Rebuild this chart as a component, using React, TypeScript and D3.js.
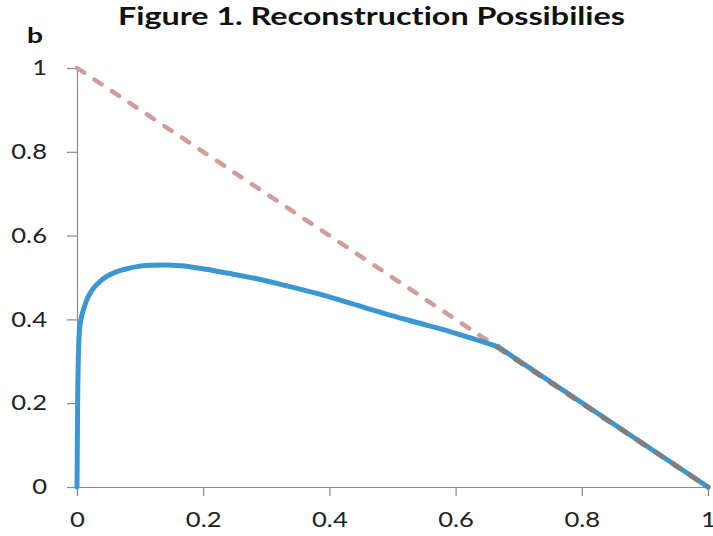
import React, { useEffect, useRef } from 'react';
import * as d3 from 'd3';

// blue curve, curved part
const curveX = [0, 0.0005, 0.001, 0.002, 0.004, 0.007, 0.01, 0.015, 0.0206, 0.028, 0.036, 0.048, 0.063, 0.079, 0.095, 0.116, 0.14, 0.165, 0.195, 0.24, 0.285, 0.33, 0.38, 0.43, 0.485, 0.54, 0.591, 0.63, 0.667];
const curveY = [0, 0.1, 0.2, 0.3, 0.375, 0.405, 0.422, 0.445, 0.462, 0.478, 0.49, 0.503, 0.514, 0.521, 0.526, 0.529, 0.53, 0.528, 0.522, 0.51, 0.497, 0.481, 0.462, 0.44, 0.415, 0.392, 0.371, 0.353, 0.335];
// blue curve, straight tail
const tailX = [0.667, 1];
const tailY = [0.335, 0];

// dashed frontier: pink part then grey part
const pinkX = [0, 0.667];
const pinkY = [1, 0.333];
const greyX = [0.667, 1];
const greyY = [0.333, 0];

const tickValues = [0, 0.2, 0.4, 0.6, 0.8, 1];

export default function App() {
  const svgRef = useRef<SVGSVGElement>(null);

  useEffect(() => {
    const width = 713;
    const height = 536;
    const margin = { top: 68, right: 5, bottom: 49, left: 77 };
    const stretch = 1.22; // the picture is wider than tall, text too

    d3.select(svgRef.current).selectAll('*').remove();

    const svg = d3.select(svgRef.current)
      .attr('width', width)
      .attr('height', height);

    const xScale = d3.scaleLinear().domain([0, 1]).range([margin.left, width - margin.right]);
    const yScale = d3.scaleLinear().domain([0, 1]).range([height - margin.bottom, margin.top]);

    const font = 'Lato, "Open Sans", sans-serif';

    // axes
    const xAxis = svg.append('g')
      .attr('transform', `translate(0,${yScale(0)})`)
      .call(d3.axisBottom(xScale).tickValues(tickValues).tickSize(9).tickFormat(d3.format('')));
    const yAxis = svg.append('g')
      .attr('transform', `translate(${xScale(0)},0)`)
      .call(d3.axisLeft(yScale).tickValues(tickValues).tickSize(10).tickFormat(d3.format('')));

    [xAxis, yAxis].forEach(ax => {
      ax.select('.domain').attr('stroke', '#8a8a8a').attr('stroke-width', 1.2);
      ax.selectAll('.tick line').attr('stroke', '#8a8a8a').attr('stroke-width', 1.2);
      ax.selectAll('.tick text')
        .attr('fill', '#222')
        .style('font-family', font)
        .style('font-size', '21px')
        .attr('transform', `scale(${stretch},1)`);
    });
    xAxis.selectAll('.tick text').attr('y', 40).attr('dy', 0);
    yAxis.selectAll('.tick text').attr('x', -30 / stretch);

    const line = d3.line<[number, number]>()
      .x(d => xScale(d[0]))
      .y(d => yScale(d[1]));

    // pink dashed
    svg.append('path')
      .datum(pinkX.map((x, i) => [x, pinkY[i]] as [number, number]))
      .attr('fill', 'none')
      .attr('stroke', '#d29c98')
      .attr('stroke-width', 4.5)
      .attr('stroke-linecap', 'round')
      .attr('stroke-dasharray', '8.5 12.5')
      .attr('d', line);

    // blue curve
    svg.append('path')
      .datum(curveX.map((x, i) => [x, curveY[i]] as [number, number]))
      .attr('fill', 'none')
      .attr('stroke', '#3a97d1')
      .attr('stroke-width', 5)
      .attr('stroke-linecap', 'round')
      .attr('d', line.curve(d3.curveMonotoneX));
    svg.append('path')
      .datum(tailX.map((x, i) => [x, tailY[i]] as [number, number]))
      .attr('fill', 'none')
      .attr('stroke', '#3a97d1')
      .attr('stroke-width', 5)
      .attr('stroke-linecap', 'round')
      .attr('d', line.curve(d3.curveLinear));

    // grey dashed on top
    svg.append('path')
      .datum(greyX.map((x, i) => [x, greyY[i]] as [number, number]))
      .attr('fill', 'none')
      .attr('stroke', '#7f7f7f')
      .attr('stroke-width', 5)
      .attr('stroke-linecap', 'round')
      .attr('stroke-dasharray', '8.5 12.5')
      .attr('d', line);

    // title
    svg.append('text')
      .attr('x', 118)
      .attr('y', 25)
      .attr('textLength', 507)
      .attr('lengthAdjust', 'spacingAndGlyphs')
      .attr('fill', '#111')
      .style('font-family', font)
      .style('font-size', '25px')
      .style('font-weight', 'bold')
      .style('font-variant-ligatures', 'none')
      .text('Figure 1. Reconstruction Possibilies');

    svg.append('text')
      .attr('x', 27)
      .attr('y', 43)
      .attr('textLength', 16)
      .attr('lengthAdjust', 'spacingAndGlyphs')
      .attr('fill', '#111')
      .style('font-family', font)
      .style('font-size', '21px')
      .style('font-weight', 'bold')
      .text('b');
  }, []);

  return (
    <svg ref={svgRef} style={{ position: 'absolute', left: 0, top: 0, background: '#fff' }}></svg>
  );
}
